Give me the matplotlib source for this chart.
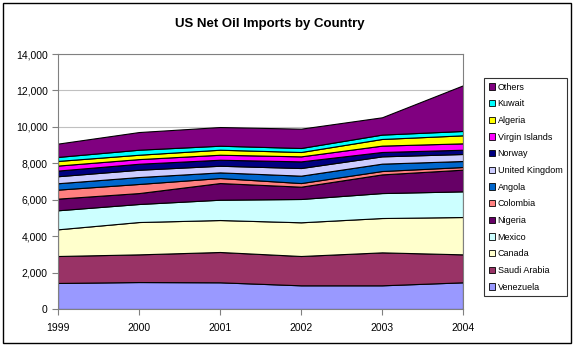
import matplotlib.pyplot as plt
from matplotlib.patches import Patch, Rectangle
from matplotlib.ticker import FuncFormatter

plt.rcParams['font.family'] = ['Liberation Sans', 'DejaVu Sans']

# Data (thousand barrels per day)
years = [1999, 2000, 2001, 2002, 2003, 2004]
countries = ["Venezuela", "Saudi Arabia", "Canada", "Mexico", "Nigeria", "Colombia",
             "Angola", "United Kingdom", "Norway", "Virgin Islands", "Algeria",
             "Kuwait", "Others"]
venezuela = [1430, 1480, 1465, 1300, 1300, 1465]
saudi_arabia = [1480, 1520, 1665, 1610, 1810, 1535]
canada = [1465, 1775, 1755, 1850, 1885, 2050]
mexico = [1045, 990, 1115, 1280, 1370, 1410]
nigeria = [640, 600, 915, 675, 1025, 1190]
colombia = [495, 500, 275, 200, 185, 145]
angola = [350, 380, 310, 405, 405, 330]
united_kingdom = [385, 400, 365, 420, 400, 385]
norway = [310, 330, 330, 365, 240, 235]
virgin_islands = [275, 255, 275, 275, 350, 350]
algeria = [255, 240, 275, 240, 365, 440]
kuwait = [220, 275, 220, 220, 240, 240]
others = [730, 970, 1025, 1060, 950, 2505]

series = [venezuela, saudi_arabia, canada, mexico, nigeria, colombia, angola,
          united_kingdom, norway, virgin_islands, algeria, kuwait, others]
colors = ["#9999FF", "#993366", "#FFFFCC", "#CCFFFF", "#660066", "#FF8080",
          "#0066CC", "#CCCCFF", "#000080", "#FF00FF", "#FFFF00", "#00FFFF", "#800080"]

fig = plt.figure(figsize=(5.76, 3.53), dpi=100)
ax = fig.add_axes([58 / 576, 1 - 309 / 353, 405 / 576, 255 / 353])

ax.stackplot(years, *series, colors=colors, edgecolor="black", linewidth=0.8)

ax.set_xlim(1999, 2004)
ax.set_ylim(0, 14000)
ax.set_xticks(years)
ax.set_yticks(range(0, 14001, 2000))
ax.yaxis.set_major_formatter(FuncFormatter(lambda v, p: f"{int(v):,}"))
ax.tick_params(axis="both", labelsize=7.5, color="#808080", length=4, width=0.8)
ax.tick_params(axis="x", pad=6)
ax.grid(axis="y", color="#C0C0C0", linewidth=0.8)
ax.set_axisbelow(True)
for s in ax.spines.values():
    s.set_color("#808080")
    s.set_linewidth(0.8)

fig.text(270 / 576, 1 - 24 / 353, "US Net Oil Imports by Country",
         ha="center", va="center", fontsize=9.5, fontweight="bold")

# Legend, reversed like Excel
handles = [Patch(facecolor=c, edgecolor="black", linewidth=0.6) for c in colors]
leg = fig.legend(handles[::-1], countries[::-1], loc="upper left",
                 bbox_to_anchor=(484 / 576, 1 - 78 / 353), fontsize=6.5,
                 frameon=True, fancybox=False, edgecolor="black",
                 handlelength=0.7, handleheight=0.7, handletextpad=0.3,
                 labelspacing=0.85, borderpad=0.5, borderaxespad=0)
leg.get_frame().set_linewidth(0.8)

# Outer chart border
fig.patches.append(Rectangle((3 / 576, 1 - 343 / 353), 568 / 576, 340 / 353,
                             transform=fig.transFigure, fill=False,
                             edgecolor="black", linewidth=1))

fig.savefig("out.png", dpi=100)
